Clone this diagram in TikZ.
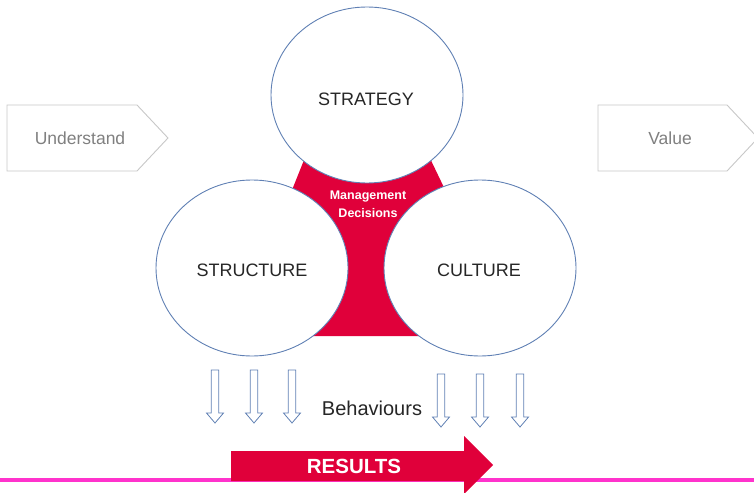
\documentclass[tikz,border=0pt]{standalone}
\usepackage{fontspec}
\setmainfont{Liberation Sans}
\usetikzlibrary{shapes.geometric}
\definecolor{mgmtred}{RGB}{224,0,58}
\definecolor{ringblue}{RGB}{96,128,180}
\definecolor{tabgray}{RGB}{200,200,200}
\definecolor{tabtext}{RGB}{128,128,128}
\definecolor{floorpink}{RGB}{255,51,204}
\tikzset{
  pillar/.style={ellipse, draw=ringblue, line width=0.9pt, fill=white,
    minimum width=192pt, minimum height=176pt, inner sep=0pt},
  pillarlabel/.style={font=\fontsize{18}{20}\selectfont, text=black!85},
  tab/.style={draw=tabgray, line width=0.9pt, fill=white},
  tablabel/.style={font=\fontsize{17.5}{20}\selectfont, text=tabtext},
  hollow/.style={draw=ringblue, line width=0.8pt, fill=white, line join=miter},
  pics/hollowdown/.style={code={
    \draw[hollow] (-3.8,0) -- (3.8,0) -- (3.8,43) -- (8.5,43) -- (0,53)
      -- (-8.5,43) -- (-3.8,43) -- cycle;}}
}
\begin{document}
\begin{tikzpicture}[x=1pt,y=-1pt]
  \useasboundingbox (0,0) rectangle (754,492);
  \clip (0,0) rectangle (754,492);

  % floor line under the results arrow
  \draw[floorpink, line width=3.5pt] (0,480) -- (754,480);

  % red core shared by the three pillars
  \fill[mgmtred] (308,150) -- (426,150) -- (450,200) -- (430,336)
    -- (300,336) -- (288,200) -- cycle;

  % the three pillars
  \node[pillar] (strategy) at (367,95) {};
  \node[pillar] (structure) at (252,268) {};
  \node[pillar] (culture) at (480,268) {};
  \node[pillarlabel] (strategytext) at (366,99) {STRATEGY};
  \node[pillarlabel] (structuretext) at (252,270) {STRUCTURE};
  \node[pillarlabel] (culturetext) at (479,270) {CULTURE};

  \node[align=center, text=white, font=\bfseries\fontsize{12.5}{18}\selectfont]
    (mgmt) at (368,204) {Management\\Decisions};

  % side tabs
  \draw[tab] (7,105) -- (137,105) -- (168,138) -- (137,171) -- (7,171) -- cycle;
  \node[tablabel] (understand) at (80,138) {Understand};
  \draw[tab] (598,105) -- (727,105) -- (758,138) -- (727,171) -- (598,171) -- cycle;
  \node[tablabel] (value) at (670,138) {Value};

  % behaviour arrows
  \pic at (215,370) {hollowdown};
  \pic at (254,370) {hollowdown};
  \pic at (292,370) {hollowdown};
  \pic at (441,374) {hollowdown};
  \pic at (480,374) {hollowdown};
  \pic at (520,374) {hollowdown};
  \node[font=\fontsize{20}{22}\selectfont, text=black!85] (behaviours) at (372,408) {Behaviours};

  % results arrow
  \fill[mgmtred] (231,451) -- (464,451) -- (464,436) -- (493,465)
    -- (464,494) -- (464,481) -- (231,481) -- cycle;
  \node[text=white, font=\bfseries\fontsize{20.5}{22}\selectfont] (results) at (354,466) {RESULTS};
\end{tikzpicture}
\end{document}
